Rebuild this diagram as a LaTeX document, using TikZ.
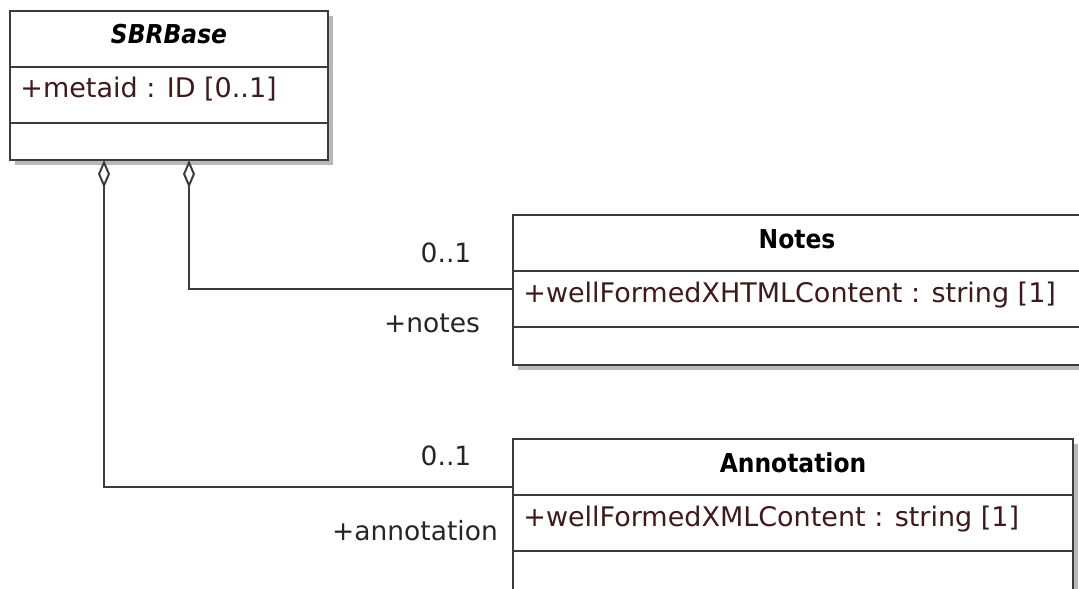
\documentclass[tikz,border=0pt]{standalone}
\usepackage{fontspec}
\setmainfont{DejaVu Sans}
\newfontfamily\titlefam[FakeStretch=0.9]{DejaVu Sans}
\usetikzlibrary{arrows.meta}
\definecolor{attrcol}{RGB}{62,26,26}
\definecolor{linecol}{RGB}{60,60,60}
\tikzset{
    classbox/.style={draw=linecol, fill=white, line width=1.1pt},
    boxshadow/.style={fill=black!28},
    classtitle/.style={font=\titlefam\bfseries\fontsize{13pt}{15pt}\selectfont, anchor=base, inner sep=0pt},
    attrtext/.style={font=\fontsize{13.5pt}{16pt}\selectfont, text=attrcol, anchor=base west, inner sep=0pt},
    roletext/.style={font=\fontsize{13.25pt}{16pt}\selectfont, text=black!85, anchor=base, inner sep=0pt},
    aggregation/.style={draw=linecol, line width=1pt, {Diamond[open, length=14pt, width=6pt]}-}
}
\begin{document}
\begin{tikzpicture}[x=0.5pt, y=-0.5pt]
            \useasboundingbox (0, 0) rectangle (1079, 588);
            % the three classes
            \foreach \n/\x/\y/\w/\h/\ttl/\att in {
                    sbrbase/10/11/318/149/{\itshape SBRBase}/{+metaid : ID [0..1]},
                    notes/513/215/568/150/Notes/{+wellFormedXHTMLContent : string [1]},
                    annotation/513/439/560/154/Annotation/{+wellFormedXMLContent : string [1]}}{
                \fill[boxshadow] (\x + 5, \y + 5) rectangle (\x + \w + 5, \y + \h + 5);
                \draw[classbox] (\x, \y) rectangle (\x + \w, \y + \h);
                \draw[classbox] (\x, \y + 56) -- (\x + \w, \y + 56);
                \draw[classbox] (\x, \y + 112) -- (\x + \w, \y + 112);
                \node[classtitle] (\n-title) at (\x + \w/2, \y + 33) {\ttl};
                \node[attrtext] (\n-attr) at (\x + 10, \y + 87) {\att};
            }
            % aggregations
            \coordinate (sbrbase-left) at (104, 160);
            \coordinate (sbrbase-right) at (189, 160);
            \coordinate (notes-end) at (513, 289);
            \coordinate (annotation-end) at (513, 487);
            \draw[aggregation] (sbrbase-right) |- (notes-end);
            \draw[aggregation] (sbrbase-left) |- (annotation-end);
            \node[roletext] (notes-mult) at (446, 262) {0..1};
            \node[roletext] (notes-role) at (432, 332) {+notes};
            \node[roletext] (annotation-mult) at (446, 465) {0..1};
            \node[roletext] (annotation-role) at (415, 540) {+annotation};
        \end{tikzpicture}
\end{document}
